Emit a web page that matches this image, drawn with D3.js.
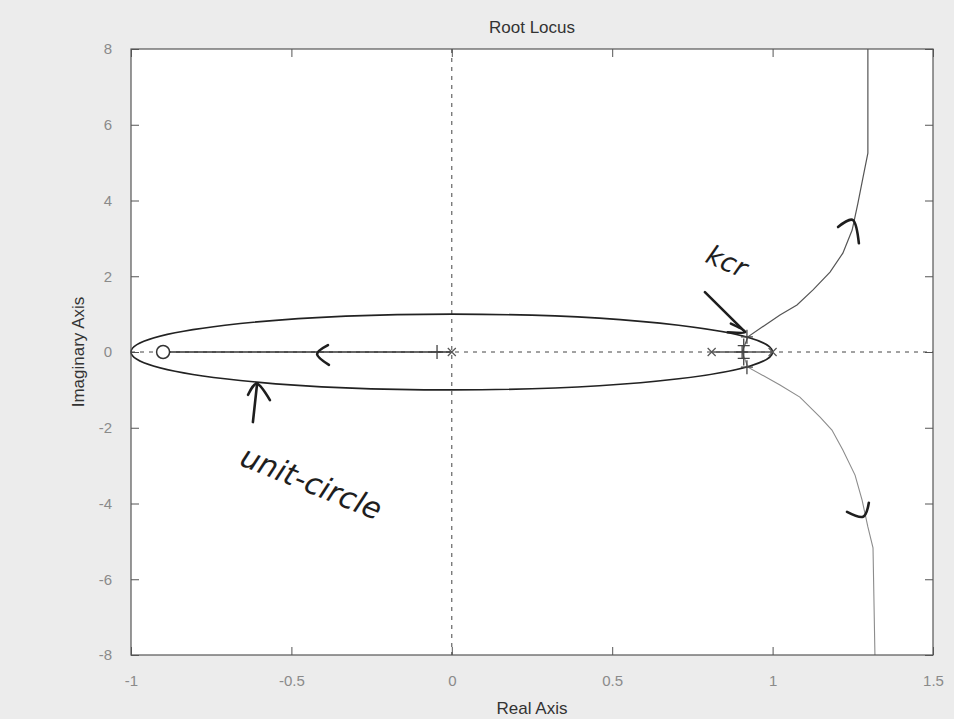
<!DOCTYPE html>
<html>
<head>
<meta charset="utf-8">
<script src="https://cdn.jsdelivr.net/npm/d3@7"></script>
<style>
body { margin: 0; background: #ececec; }
svg { display: block; }
</style>
</head>
<body>
<svg id="chart" width="954" height="719"></svg>
<script>
// axis ticks
var xTicks = [ -1, -0.5, 0, 0.5, 1, 1.5 ];
var yTicks = [ -8, -6, -4, -2, 0, 2, 4, 6, 8 ];

// open loop poles and zero
var poles = [ 0, 0.81, 1.0 ];
var zeros = [ -0.9 ];

// closed loop poles marked with '+'
var plusMarks = [
	[ -0.046, 0 ], [ 0.905, 0 ], [ 0.92, 0.4 ], [ 0.92, -0.4 ], [ 0.91, 0.17 ], [ 0.91, -0.17 ]
];

// real axis branches
var branchLeft = [ [ 0, 0 ], [ -0.9, 0 ] ];
var branchMid = [ [ 0.81, 0 ], [ 1.0, 0 ] ];

// complex branches
var branchUp = [
	[ 0.905, 0 ], [ 0.923, 0.40 ], [ 1.023, 0.98 ], [ 1.076, 1.24 ], [ 1.126, 1.64 ],
	[ 1.179, 2.11 ], [ 1.219, 2.61 ], [ 1.248, 3.22 ], [ 1.266, 3.93 ], [ 1.282, 4.62 ],
	[ 1.297, 5.25 ], [ 1.297, 8 ]
];
var branchDown = [
	[ 0.905, 0 ], [ 0.923, -0.40 ], [ 1.023, -0.87 ], [ 1.085, -1.19 ], [ 1.148, -1.72 ],
	[ 1.185, -2.06 ], [ 1.219, -2.59 ], [ 1.257, -3.25 ], [ 1.279, -3.91 ], [ 1.297, -4.62 ],
	[ 1.313, -5.17 ], [ 1.319, -8 ]
];

// hand written notes, in axis units
var penStrokes = [
	[ [ 0.789, 1.58 ], [ 0.914, 0.53 ] ],
	[ [ 0.87, 0.75 ], [ 0.914, 0.53 ], [ 0.86, 0.52 ] ],
	[ [ -0.386, 0.18 ], [ -0.42, -0.06 ], [ -0.383, -0.34 ] ],
	[ [ -0.620, -1.85 ], [ -0.607, -0.84 ] ],
	[ [ -0.635, -1.13 ], [ -0.607, -0.84 ], [ -0.567, -1.27 ] ],
	[ [ 1.204, 3.30 ], [ 1.251, 3.48 ], [ 1.269, 2.87 ] ],
	[ [ 1.232, -4.22 ], [ 1.282, -4.35 ], [ 1.300, -3.98 ] ]
];
var penNotes = [
	{ text: 'kcr', x: 0.855, y: 2.35, angle: 24, size: 27 },
	{ text: 'unit-circle', x: -0.44, y: -3.5, angle: 22, size: 30 }
];

var margin = { left: 131, top: 49, right: 954 - 933, bottom: 719 - 655 };
var width = 954 - margin.left - margin.right;
var height = 719 - margin.top - margin.bottom;

var svg = d3.select( '#chart' );
var g = svg.append( 'g' )
	.attr( 'transform', 'translate(' + margin.left + ',' + margin.top + ')' );

var x = d3.scaleLinear().domain( [ -1, 1.5 ] ).range( [ 0, width ] );
var y = d3.scaleLinear().domain( [ -8, 8 ] ).range( [ height, 0 ] );

g.append( 'rect' )
	.attr( 'width', width )
	.attr( 'height', height )
	.style( 'fill', '#fff' );

// ticks on all four sides, pointing in
var tickLen = 8;
var plain = function ( d ) { return String( d ); };
var tickStyle = function ( sel ) {
	sel.select( '.domain' ).remove();
	sel.selectAll( '.tick line' ).attr( 'stroke', '#555' );
	sel.selectAll( '.tick text' )
		.attr( 'fill', '#8a8a8a' )
		.style( 'font-family', 'Liberation Sans, Arial, sans-serif' )
		.style( 'font-size', '15px' );
};
g.append( 'g' ).attr( 'transform', 'translate(0,' + height + ')' )
	.call( d3.axisBottom( x ).tickValues( xTicks ).tickSize( -tickLen ).tickPadding( 20 ).tickFormat( plain ) )
	.call( tickStyle );
g.append( 'g' )
	.call( d3.axisTop( x ).tickValues( xTicks ).tickSize( -tickLen ).tickFormat( '' ) )
	.call( tickStyle );
g.append( 'g' )
	.call( d3.axisLeft( y ).tickValues( yTicks ).tickSize( -tickLen ).tickPadding( 19 ).tickFormat( plain ) )
	.call( tickStyle );
g.append( 'g' ).attr( 'transform', 'translate(' + width + ',0)' )
	.call( d3.axisRight( y ).tickValues( yTicks ).tickSize( -tickLen ).tickFormat( '' ) )
	.call( tickStyle );

// dashed axes through the origin
g.append( 'line' )
	.attr( 'x1', 0 ).attr( 'x2', width )
	.attr( 'y1', y( 0 ) ).attr( 'y2', y( 0 ) )
	.attr( 'stroke', '#444' ).attr( 'stroke-dasharray', '4,5' );
g.append( 'line' )
	.attr( 'x1', x( 0 ) ).attr( 'x2', x( 0 ) )
	.attr( 'y1', 0 ).attr( 'y2', height )
	.attr( 'stroke', '#444' ).attr( 'stroke-dasharray', '4,5' );

// unit circle (squashed by the axis aspect)
g.append( 'ellipse' )
	.attr( 'cx', x( 0 ) ).attr( 'cy', y( 0 ) )
	.attr( 'rx', x( 1 ) - x( 0 ) ).attr( 'ry', y( 0 ) - y( 1 ) )
	.attr( 'fill', 'none' ).attr( 'stroke', '#222' ).attr( 'stroke-width', 1.6 );

var line = d3.line()
	.x( function ( d ) { return x( d[0] ); } )
	.y( function ( d ) { return y( d[1] ); } );

g.append( 'path' ).datum( branchLeft ).attr( 'd', line )
	.attr( 'fill', 'none' ).attr( 'stroke', '#333' ).attr( 'stroke-width', 1.6 );
g.append( 'path' ).datum( branchMid ).attr( 'd', line )
	.attr( 'fill', 'none' ).attr( 'stroke', '#555' ).attr( 'stroke-width', 1.6 );
g.append( 'path' ).datum( branchUp ).attr( 'd', line )
	.attr( 'fill', 'none' ).attr( 'stroke', '#555' ).attr( 'stroke-width', 1.2 );
g.append( 'path' ).datum( branchDown ).attr( 'd', line )
	.attr( 'fill', 'none' ).attr( 'stroke', '#8c8c8c' ).attr( 'stroke-width', 1.1 );

// markers
g.selectAll( '.zero' ).data( zeros ).enter().append( 'circle' )
	.attr( 'cx', function ( d ) { return x( d ); } )
	.attr( 'cy', y( 0 ) )
	.attr( 'r', 6.5 )
	.attr( 'fill', '#fff' ).attr( 'stroke', '#333' ).attr( 'stroke-width', 1.5 );

var pole = g.selectAll( '.pole' ).data( poles ).enter().append( 'g' )
	.attr( 'transform', function ( d ) { return 'translate(' + x( d ) + ',' + y( 0 ) + ')'; } );
pole.append( 'path' )
	.attr( 'd', 'M-4,-4L4,4M-4,4L4,-4' )
	.attr( 'stroke', '#555' ).attr( 'stroke-width', 1.2 );

g.selectAll( '.plus' ).data( plusMarks ).enter().append( 'path' )
	.attr( 'transform', function ( d ) { return 'translate(' + x( d[0] ) + ',' + y( d[1] ) + ')'; } )
	.attr( 'd', 'M-6,0L6,0M0,-7L0,7' )
	.attr( 'stroke', '#444' ).attr( 'stroke-width', 1.3 );

// hand written notes
var pen = d3.line()
	.x( function ( d ) { return x( d[0] ); } )
	.y( function ( d ) { return y( d[1] ); } )
	.curve( d3.curveCardinal );
g.selectAll( '.stroke' ).data( penStrokes ).enter().append( 'path' )
	.attr( 'd', pen )
	.attr( 'fill', 'none' ).attr( 'stroke', '#1e1e1e' )
	.attr( 'stroke-width', 2.6 ).attr( 'stroke-linecap', 'round' ).attr( 'stroke-linejoin', 'round' );
g.selectAll( '.note' ).data( penNotes ).enter().append( 'text' )
	.attr( 'transform', function ( d ) {
		return 'translate(' + x( d.x ) + ',' + y( d.y ) + ') rotate(' + d.angle + ')';
	} )
	.attr( 'text-anchor', 'middle' )
	.attr( 'dominant-baseline', 'middle' )
	.style( 'font-family', 'DejaVu Sans, sans-serif' )
	.style( 'font-style', 'italic' )
	.style( 'font-size', function ( d ) { return d.size + 'px'; } )
	.attr( 'fill', '#1e1e1e' )
	.text( function ( d ) { return d.text; } );

// frame
g.append( 'rect' )
	.attr( 'width', width )
	.attr( 'height', height )
	.attr( 'fill', 'none' ).attr( 'stroke', '#555' ).attr( 'stroke-width', 1.2 );

// titles
var labelFont = 'Liberation Sans, Arial, sans-serif';
svg.append( 'text' )
	.attr( 'x', margin.left + width / 2 ).attr( 'y', 33 )
	.attr( 'text-anchor', 'middle' )
	.style( 'font-family', labelFont ).style( 'font-size', '17px' )
	.attr( 'fill', '#333' )
	.text( 'Root Locus' );
svg.append( 'text' )
	.attr( 'x', margin.left + width / 2 ).attr( 'y', 714 )
	.attr( 'text-anchor', 'middle' )
	.style( 'font-family', labelFont ).style( 'font-size', '17px' )
	.attr( 'fill', '#333' )
	.text( 'Real Axis' );
svg.append( 'text' )
	.attr( 'transform', 'translate(84,' + ( margin.top + height / 2 ) + ') rotate(-90)' )
	.attr( 'text-anchor', 'middle' )
	.style( 'font-family', labelFont ).style( 'font-size', '17px' )
	.attr( 'fill', '#333' )
	.text( 'Imaginary Axis' );
</script>
</body>
</html>
